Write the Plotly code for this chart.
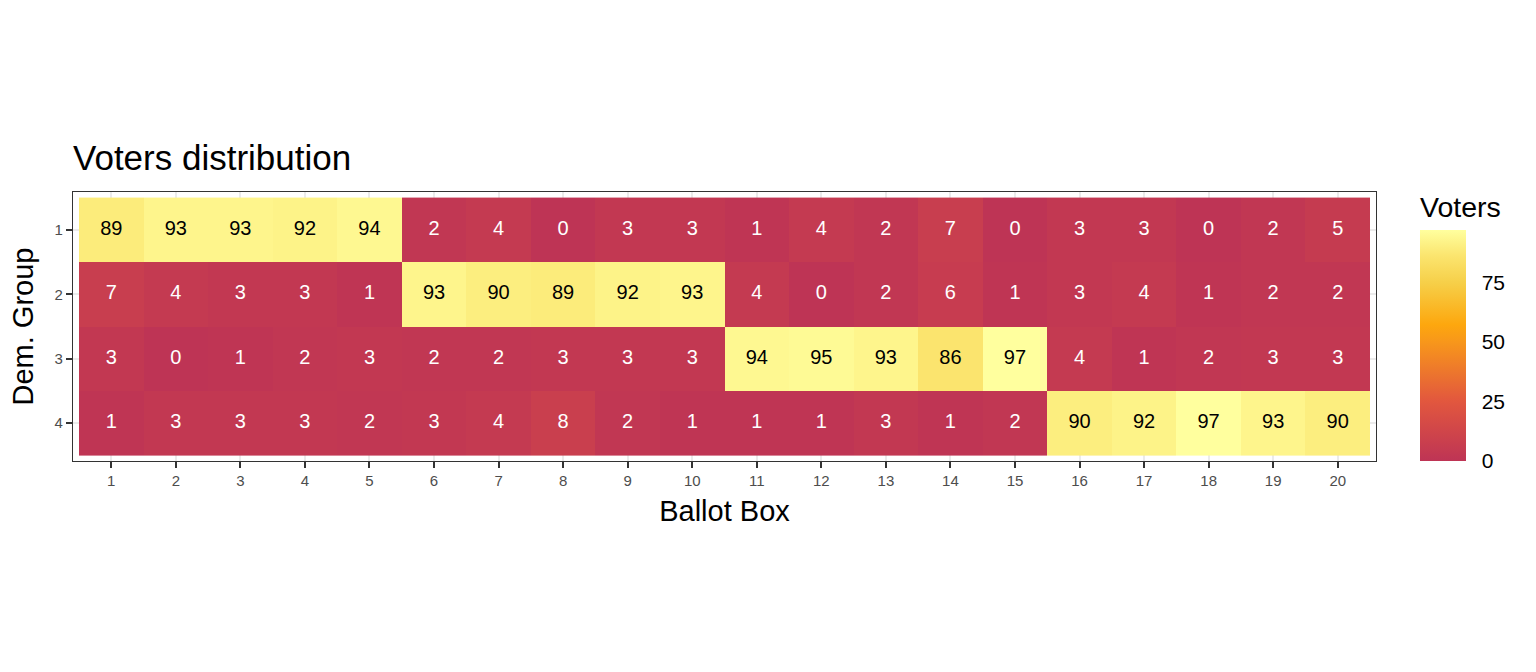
import plotly.graph_objects as go

ballot_boxes = list(range(1, 21))
dem_groups = [1, 2, 3, 4]
voters_g1 = [89, 93, 93, 92, 94, 2, 4, 0, 3, 3, 1, 4, 2, 7, 0, 3, 3, 0, 2, 5]
voters_g2 = [7, 4, 3, 3, 1, 93, 90, 89, 92, 93, 4, 0, 2, 6, 1, 3, 4, 1, 2, 2]
voters_g3 = [3, 0, 1, 2, 3, 2, 2, 3, 3, 3, 94, 95, 93, 86, 97, 4, 1, 2, 3, 3]
voters_g4 = [1, 3, 3, 3, 2, 3, 4, 8, 2, 1, 1, 1, 3, 1, 2, 90, 92, 97, 93, 90]
z = [voters_g1, voters_g2, voters_g3, voters_g4]
colorbar_ticks = [0, 25, 50, 75]

FONT = "Liberation Sans, Arial, Helvetica, sans-serif"
W, H = 1536, 672
PX_L, PX_R, PX_T, PX_B = 73, 1376, 192, 461.5

colorscale = [
    [0.0, "#BE3455"], [0.26, "#E2573E"], [0.52, "#F8981A"], [0.59, "#FDA70E"],
    [0.77, "#F6CF48"], [0.89, "#FBE56F"], [1.0, "#FFFF9E"],
]
zmax = max(max(r) for r in z)

fig = go.Figure()
fig.add_trace(go.Heatmap(
    x=ballot_boxes, y=dem_groups, z=z,
    colorscale=colorscale, zmin=0, zmax=zmax,
    hoverinfo="skip",
    colorbar=dict(
        title=dict(text="Voters", side="top", font=dict(family=FONT, size=28.5, color="black")),
        thickness=46, thicknessmode="pixels",
        len=268, lenmode="pixels",
        x=(1420 - PX_L) / (PX_R - PX_L), xanchor="left",
        y=0, yanchor="bottom", xpad=0, ypad=0,
        outlinewidth=0,
        tickvals=colorbar_ticks,
        ticks="outside", ticklen=12, tickwidth=1, tickcolor="white",
        tickfont=dict(family=FONT, size=21, color="black"),
    ),
))

xs, ys, txt, cols = [], [], [], []
for gi, g in enumerate(dem_groups):
    for bi, b in enumerate(ballot_boxes):
        v = z[gi][bi]
        xs.append(b); ys.append(g); txt.append(str(v))
        cols.append("black" if v > 50 else "white")
fig.add_trace(go.Scatter(
    x=xs, y=ys, text=txt, mode="text",
    textfont=dict(family=FONT, size=20, color=cols),
    hoverinfo="skip", showlegend=False,
))

unit_x = (PX_R - PX_L - 12) / 20
ex = 6 / unit_x
unit_y = (PX_B - PX_T - 11.2) / 4
ey = 5.6 / unit_y

axis_common = dict(
    showline=True, mirror=True, linecolor="#333333", linewidth=1.2,
    ticks="outside", ticklen=6, tickwidth=2, tickcolor="#333333",
    showgrid=True, gridcolor="#EBEBEB", gridwidth=1.5, zeroline=False,
    tickfont=dict(family=FONT, size=15, color="#4D4D4D"),
)
fig.update_layout(
    width=W, height=H,
    margin=dict(l=PX_L, r=W - PX_R, t=PX_T, b=H - PX_B),
    paper_bgcolor="white", plot_bgcolor="white",
    font=dict(family=FONT),
    title=dict(text="Voters distribution", x=PX_L / W, xanchor="left",
               y=1 - 158 / H, yanchor="middle", yref="container",
               font=dict(family=FONT, size=35, color="black")),
    xaxis=dict(range=[0.5 - ex, 20.5 + ex], tickvals=ballot_boxes,
               title=dict(text="Ballot Box", standoff=12, font=dict(family=FONT, size=29, color="black")),
               **axis_common),
    yaxis=dict(range=[4.5 + ey, 0.5 - ey], tickvals=dem_groups,
               title=dict(text="Dem. Group", standoff=12, font=dict(family=FONT, size=29, color="black")),
               **axis_common),
)
fig.write_html("out.html")
